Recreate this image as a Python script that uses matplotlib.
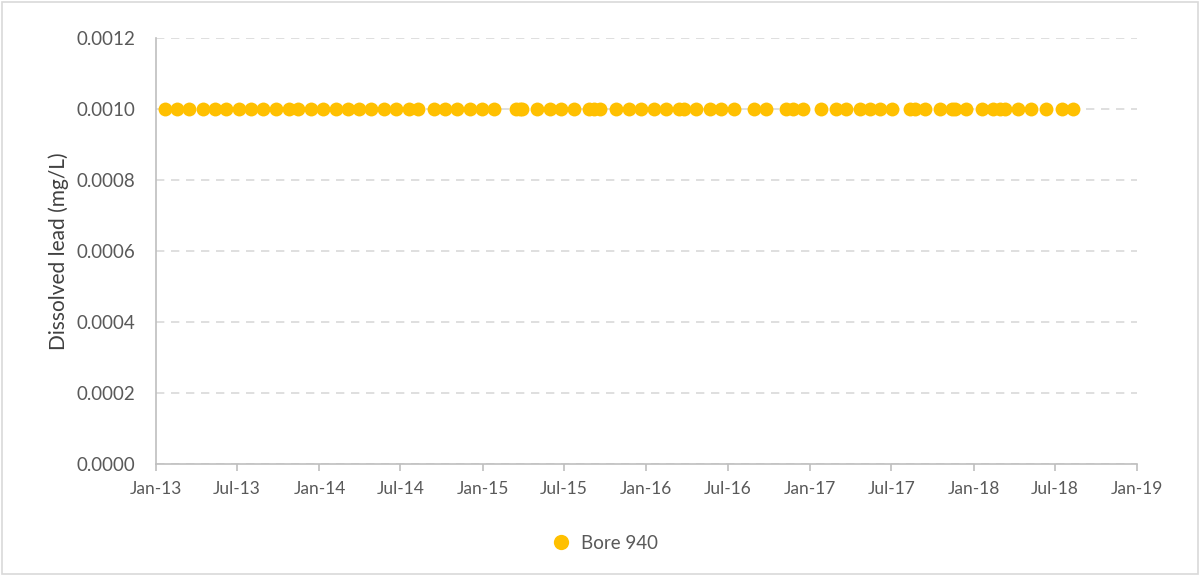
import pandas as pd
import matplotlib.pyplot as plt
import matplotlib.dates as mdates
from matplotlib.patches import Rectangle

# Bore 940 sample dates and dissolved lead values
sample_dates = [
    "2013-01-20", "2013-02-16", "2013-03-15", "2013-04-15", "2013-05-12", "2013-06-07",
    "2013-07-06", "2013-08-02", "2013-08-29", "2013-09-25", "2013-10-24", "2013-11-15",
    "2013-12-14", "2014-01-10", "2014-02-06", "2014-03-05", "2014-03-31", "2014-04-27",
    "2014-05-26", "2014-06-22", "2014-07-21", "2014-08-10", "2014-09-13", "2014-10-09",
    "2014-11-05", "2014-12-04", "2014-12-31", "2015-01-27", "2015-03-15", "2015-03-24",
    "2015-03-30", "2015-05-01", "2015-05-30", "2015-06-25", "2015-07-24", "2015-08-25",
    "2015-09-07", "2015-09-20", "2015-10-26", "2015-11-24", "2015-12-21", "2016-01-19",
    "2016-02-15", "2016-03-13", "2016-03-26", "2016-04-22", "2016-05-23", "2016-06-15",
    "2016-07-16", "2016-08-29", "2016-09-25", "2016-11-07", "2016-11-24", "2016-12-17",
    "2017-01-26", "2017-02-28", "2017-03-21", "2017-04-23", "2017-05-15", "2017-06-07",
    "2017-07-03", "2017-08-12", "2017-08-24", "2017-09-15", "2017-10-19", "2017-11-14",
    "2017-11-21", "2017-12-16", "2018-01-20", "2018-02-14", "2018-03-02", "2018-03-13",
    "2018-04-11", "2018-05-10", "2018-06-12", "2018-07-18", "2018-08-12",
]
lead_values = [0.001] * len(sample_dates)

y_ticks = [0.0, 0.0002, 0.0004, 0.0006, 0.0008, 0.0010, 0.0012]
x_tick_dates = ["2013-01-01", "2013-07-01", "2014-01-01", "2014-07-01", "2015-01-01",
                "2015-07-01", "2016-01-01", "2016-07-01", "2017-01-01", "2017-07-01",
                "2018-01-01", "2018-07-01", "2019-01-01"]

plt.rcParams['font.family'] = ['Lato', 'DejaVu Sans']
text_col = '#595959'

fig = plt.figure(figsize=(12, 5.76), dpi=100)
ax = fig.add_axes([0.13, 0.1944, 0.8175, 0.7396])

dates = pd.to_datetime(sample_dates)
ax.plot(dates, lead_values, linestyle='none', marker='o', markersize=10,
        color='#FFC000', markeredgewidth=0, label='Bore 940', zorder=3)

xt = pd.to_datetime(x_tick_dates)
ax.set_xlim(xt[0], xt[-1])
ax.set_xticks(xt)
ax.xaxis.set_major_formatter(mdates.DateFormatter('%b-%y'))
ax.set_ylim(0, 0.0012)
ax.set_yticks(y_ticks)
ax.set_yticklabels([f"{v:.4f}" for v in y_ticks])

ax.grid(axis='y', color='#d9d9d9', linestyle=(0, (5, 4)), linewidth=1.2)
ax.set_axisbelow(True)
for s in ['top', 'right']:
    ax.spines[s].set_visible(False)
for s in ['left', 'bottom']:
    ax.spines[s].set_color('#bfbfbf')
    ax.spines[s].set_linewidth(1.2)
ax.tick_params(axis='y', length=0, pad=15, labelsize=13.5, labelcolor=text_col)
ax.tick_params(axis='x', length=5, color='#bfbfbf', width=1.2, pad=7,
               labelsize=12.5, labelcolor=text_col)

ax.set_ylabel("Dissolved lead (mg/L)", fontsize=15, color='#404040', labelpad=5)

fig.legend(loc='center', bbox_to_anchor=(0.5, 0.057), frameon=False, fontsize=13.5,
           labelcolor=text_col, handletextpad=0.1, markerscale=1.1)

# thin grey frame around the whole chart
fig.patches.append(Rectangle((0.002, 0.003), 0.996, 0.994, transform=fig.transFigure,
                             fill=False, edgecolor='#d9d9d9', linewidth=1.2))

fig.savefig("out.png", dpi=100)
